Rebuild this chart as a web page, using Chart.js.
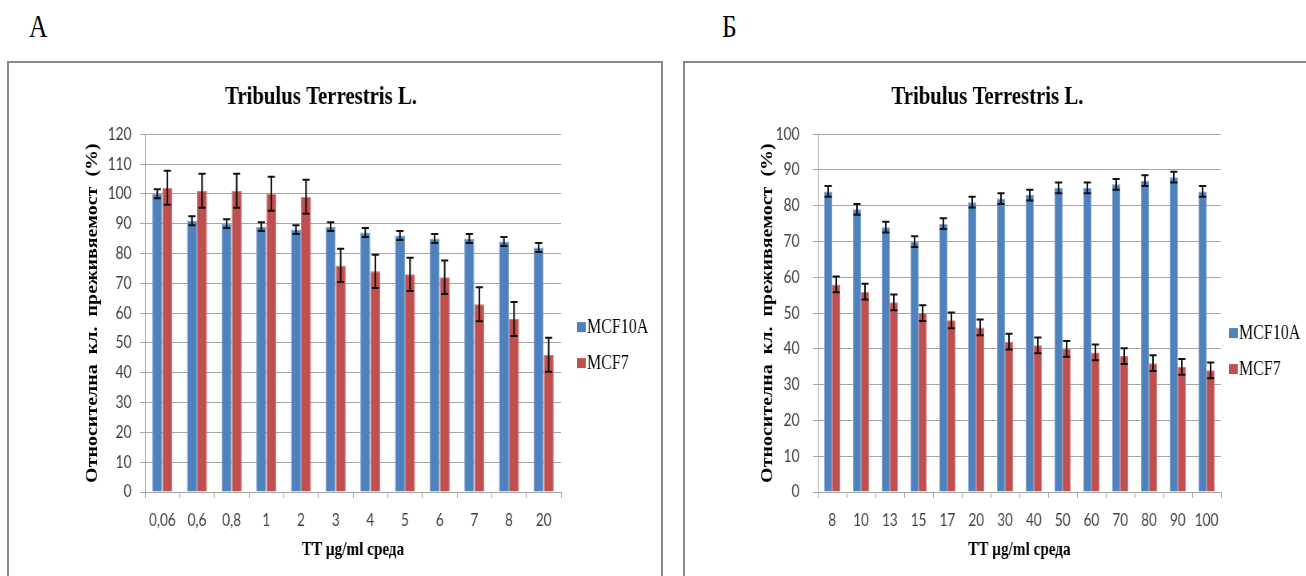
<!DOCTYPE html>
<html lang="bg">
<head>
<meta charset="utf-8">
<title>Tribulus Terrestris L.</title>
<script src="https://cdn.jsdelivr.net/npm/chart.js@4.4.1/dist/chart.umd.min.js"></script>
<style>
  body { margin: 0; background: #ffffff; width: 1306px; height: 576px; overflow: hidden; position: relative; }
  .bukva { position: absolute; top: 8px; font: 32px "Liberation Serif", "Times New Roman", serif; color: #000; transform: scaleX(0.8); transform-origin: 0 0; }
  .ramka { position: absolute; top: 61px; height: 540px; border: 2px solid #888888; box-sizing: border-box; }
  .platno { position: absolute; top: 63px; height: 513px; transform: scaleX(0.8); transform-origin: 0 0; }
</style>
</head>
<body>
<div class="bukva" style="left: 29px;">А</div>
<div class="bukva" style="left: 722px;">Б</div>
<div class="ramka" style="left: 7px; width: 656px;"></div>
<div class="ramka" style="left: 683px; width: 640px;"></div>
<div class="platno" style="left: 9px; width: 815px;"><canvas id="chart-a"></canvas></div>
<div class="platno" style="left: 685px; width: 776px;"><canvas id="chart-b"></canvas></div>

<script>
// Панел А
const dozyA = ["0,06", "0,6", "0,8", "1", "2", "3", "4", "5", "6", "7", "8", "20"];
const mcf10aA = [100, 91, 90, 89, 88, 89, 87, 86, 85, 85, 84, 82];
const mcf10aGreshkaA = [1.5, 1.5, 1.5, 1.5, 1.5, 1.5, 1.5, 1.5, 1.5, 1.5, 1.5, 1.5];
const mcf7A = [102, 101, 101, 100, 99, 76, 74, 73, 72, 63, 58, 46];
const mcf7GreshkaA = [5.7, 5.7, 5.7, 5.7, 5.7, 5.6, 5.6, 5.6, 5.6, 5.7, 5.7, 5.7];
const yTikoveA = { max: 120, step: 10 };

// Панел Б
const dozyB = ["8", "10", "13", "15", "17", "20", "30", "40", "50", "60", "70", "80", "90", "100"];
const mcf10aB = [84, 79, 74, 70, 75, 81, 82, 83, 85, 85, 86, 87, 88, 84];
const mcf10aGreshkaB = [1.5, 1.5, 1.5, 1.5, 1.5, 1.5, 1.5, 1.5, 1.5, 1.5, 1.5, 1.5, 1.5, 1.5];
const mcf7B = [58, 56, 53, 50, 48, 46, 42, 41, 40, 39, 38, 36, 35, 34];
const mcf7GreshkaB = [2.2, 2.2, 2.2, 2.2, 2.2, 2.2, 2.2, 2.2, 2.2, 2.2, 2.2, 2.2, 2.2, 2.2];
const yTikoveB = { max: 100, step: 10 };

const zaglavie = "Tribulus Terrestris L.";
const yZaglavie = "Относителна  кл.  преживяемост  (%)";
const xZaglavie = "TT µg/ml среда";

const sino = "#4f81bd";
const cherveno = "#c0504d";
const siviLinii = "#a6a6a6";
const tekst = "#404040";
const serifen = '"Liberation Serif", "Times New Roman", serif';

// error bars, drawn from the bar elements and the y scale
const greshki = {
  id: "greshki",
  afterDatasetsDraw(chart) {
    const ctx = chart.ctx;
    const y = chart.scales.y;
    ctx.save();
    ctx.strokeStyle = "#111111";
    ctx.lineWidth = 2;
    chart.data.datasets.forEach((ds, i) => {
      const meta = chart.getDatasetMeta(i);
      meta.data.forEach((bar, j) => {
        const gore = y.getPixelForValue(ds.data[j] + ds.greshki[j]);
        const dolu = y.getPixelForValue(ds.data[j] - ds.greshki[j]);
        ctx.beginPath();
        ctx.moveTo(bar.x, gore);
        ctx.lineTo(bar.x, dolu);
        ctx.moveTo(bar.x - 4.5, gore);
        ctx.lineTo(bar.x + 4.5, gore);
        ctx.moveTo(bar.x - 4.5, dolu);
        ctx.lineTo(bar.x + 4.5, dolu);
        ctx.stroke();
      });
    });
    ctx.restore();
  }
};

// legend to the right of the plot, like the original
const legenda = {
  id: "legenda",
  afterDraw(chart, args, opts) {
    const ctx = chart.ctx;
    const area = chart.chartArea;
    const x = area.right + opts.dx;
    let yc = (area.top + area.bottom) / 2 + opts.dy;
    ctx.save();
    ctx.font = "20px " + serifen;
    ctx.textBaseline = "middle";
    ctx.textAlign = "left";
    chart.data.datasets.forEach((ds) => {
      ctx.fillStyle = ds.backgroundColor;
      ctx.fillRect(x, yc - 5, 11, 10);
      ctx.fillStyle = "#000000";
      ctx.fillText(ds.label, x + 12.5, yc + 1);
      yc += 36;
    });
    ctx.restore();
  }
};

function napraviOpcii(yTikove, podl, tikPadding, yTitlePad, legDx, legDy) {
  return {
    responsive: true,
    maintainAspectRatio: false,
    animation: false,
    layout: { padding: podl },
    plugins: {
      title: {
        display: true,
        text: zaglavie,
        color: "#000000",
        font: { family: serifen, size: 26, weight: "bold" },
        padding: { top: 19, bottom: 21 }
      },
      legend: { display: false },
      tooltip: { enabled: false },
      legenda: { dx: legDx, dy: legDy }
    },
    scales: {
      x: {
        offset: true,
        grid: { offset: true, drawOnChartArea: false, drawTicks: true, tickLength: 6, color: siviLinii },
        border: { display: true, color: siviLinii },
        ticks: { color: tekst, padding: 12, font: { family: "Lato, Roboto, sans-serif", size: 17 }, maxRotation: 0, autoSkip: false },
        title: {
          display: true,
          text: xZaglavie,
          color: "#000000",
          padding: { top: 4, bottom: 1 },
          font: { family: serifen, size: 19, weight: "bold" }
        },
        afterFit(scale) { scale.height = 70; }
      },
      y: {
        min: 0,
        max: yTikove.max,
        grid: { color: siviLinii, tickLength: 6 },
        border: { display: true, color: siviLinii },
        ticks: { stepSize: yTikove.step, color: tekst, padding: tikPadding, font: { family: "Lato, Roboto, sans-serif", size: 17 } },
        title: {
          display: true,
          text: yZaglavie,
          color: "#000000",
          padding: { top: yTitlePad, bottom: 0 },
          font: { family: serifen, size: 20, weight: "bold" }
        },
        afterFit(scale) { scale.width = 80; }
      }
    }
  };
}

function napraviDanni(dozy, sini, siniGr, cherveni, cherveniGr, kat) {
  return {
    labels: dozy,
    datasets: [
      { label: "MCF10A", data: sini, greshki: siniGr, backgroundColor: sino, borderColor: "#7ea3d0", borderWidth: 1, categoryPercentage: kat, barPercentage: 1 },
      { label: "MCF7", data: cherveni, greshki: cherveniGr, backgroundColor: cherveno, borderColor: "#d27c7a", borderWidth: 1, categoryPercentage: kat, barPercentage: 1 }
    ]
  };
}

const chartA = new Chart(document.getElementById("chart-a"), {
  type: "bar",
  data: napraviDanni(dozyA, mcf10aA, mcf10aGreshkaA, mcf7A, mcf7GreshkaA, 0.58),
  options: napraviOpcii(yTikoveA, { left: 90, right: 125, top: 0, bottom: 14 }, 11, 3, 20, 14),
  plugins: [greshki, legenda]
});

const chartB = new Chart(document.getElementById("chart-b"), {
  type: "bar",
  data: napraviDanni(dozyB, mcf10aB, mcf10aGreshkaB, mcf7B, mcf7GreshkaB, 0.56),
  options: napraviOpcii(yTikoveB, { left: 86, right: 106, top: 0, bottom: 14 }, 17, 6, 10, 20),
  plugins: [greshki, legenda]
});
</script>
</body>
</html>
